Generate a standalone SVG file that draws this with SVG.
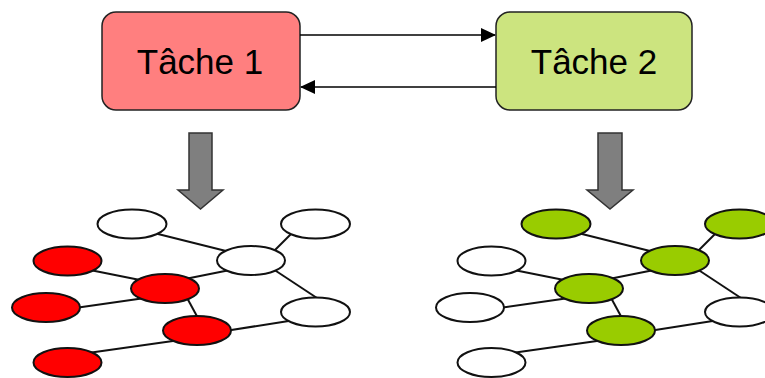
<svg xmlns="http://www.w3.org/2000/svg" width="765" height="378" viewBox="0 0 765 378">
<style>
.box{stroke:#222;stroke-width:1.5}
.lbl{font-family:"Liberation Sans",Arial,sans-serif;font-size:35px;fill:#000;text-anchor:middle}
.link{stroke:#000;stroke-width:1.5;fill:none}
.edge{stroke:#111;stroke-width:2;fill:none}
.n{stroke:#111;stroke-width:2}
.w{fill:#fff}
.r{fill:#ff0000}
.g{fill:#99cc00}
.big{fill:#7f7f7f;stroke:#333;stroke-width:1.5}
</style>
<defs>
<marker id="ah" markerWidth="15" markerHeight="14" refX="14" refY="7" orient="auto" markerUnits="userSpaceOnUse">
<path d="M0,0 L15,7 L0,14 Z" fill="#000"/>
</marker>
</defs>
<g id="tache1"><rect class="box" x="102" y="12" width="198" height="98" rx="14" fill="#ff7f7f"/><text class="lbl" x="200" y="74">Tâche 1</text></g>
<g id="tache2"><rect class="box" x="496" y="12" width="196" height="98" rx="14" fill="#cce47f"/><text class="lbl" x="594" y="74">Tâche 2</text></g>
<g id="connectors">
<line class="link" x1="300" y1="35" x2="495" y2="35" marker-end="url(#ah)"/>
<line class="link" x1="496" y1="87" x2="301" y2="87" marker-end="url(#ah)"/>
<path class="big" d="M189,133 H212 V190 H223 L200.5,209 L178,190 H189 Z"/>
<path class="big" d="M598,133 H622 V190 H633 L610,209 L587,190 H598 Z"/>
</g>
<g id="graph1">
<g class="edges">
<line class="edge" x1="150" y1="232" x2="230" y2="252"/>
<line class="edge" x1="295" y1="230" x2="270" y2="255"/>
<line class="edge" x1="90" y1="270" x2="145" y2="281"/>
<line class="edge" x1="185" y1="279" x2="230" y2="270"/>
<line class="edge" x1="75" y1="308" x2="145" y2="298"/>
<line class="edge" x1="186" y1="296" x2="199" y2="320"/>
<line class="edge" x1="270" y1="267" x2="320" y2="300"/>
<line class="edge" x1="225" y1="331" x2="295" y2="320"/>
<line class="edge" x1="88" y1="353" x2="180" y2="340"/>
</g>
<ellipse id="g1n1" class="n w" cx="132" cy="224" rx="34.5" ry="14.5"/>
<ellipse id="g1n2" class="n w" cx="315.5" cy="224" rx="34.5" ry="14.5"/>
<ellipse id="g1n3" class="n w" cx="251" cy="260.5" rx="34" ry="14.5"/>
<ellipse id="g1n4" class="n r" cx="67.5" cy="261" rx="34" ry="14.5"/>
<ellipse id="g1n5" class="n r" cx="165" cy="288.5" rx="34" ry="14.5"/>
<ellipse id="g1n6" class="n r" cx="46" cy="307.5" rx="34" ry="14.5"/>
<ellipse id="g1n7" class="n w" cx="315.5" cy="312" rx="34.5" ry="14.5"/>
<ellipse id="g1n8" class="n r" cx="197" cy="330.5" rx="34" ry="14.5"/>
<ellipse id="g1n9" class="n r" cx="67.5" cy="362.5" rx="34" ry="14.5"/>
</g>
<g id="graph2" transform="translate(424,0)">
<g class="edges">
<line class="edge" x1="150" y1="232" x2="230" y2="252"/>
<line class="edge" x1="295" y1="230" x2="270" y2="255"/>
<line class="edge" x1="90" y1="270" x2="145" y2="281"/>
<line class="edge" x1="185" y1="279" x2="230" y2="270"/>
<line class="edge" x1="75" y1="308" x2="145" y2="298"/>
<line class="edge" x1="186" y1="296" x2="199" y2="320"/>
<line class="edge" x1="270" y1="267" x2="320" y2="300"/>
<line class="edge" x1="225" y1="331" x2="295" y2="320"/>
<line class="edge" x1="88" y1="353" x2="180" y2="340"/>
</g>
<ellipse id="g2n1" class="n g" cx="132" cy="224" rx="34.5" ry="14.5"/>
<ellipse id="g2n2" class="n g" cx="315.5" cy="224" rx="34.5" ry="14.5"/>
<ellipse id="g2n3" class="n g" cx="251" cy="260.5" rx="34" ry="14.5"/>
<ellipse id="g2n4" class="n w" cx="67.5" cy="261" rx="34" ry="14.5"/>
<ellipse id="g2n5" class="n g" cx="165" cy="288.5" rx="34" ry="14.5"/>
<ellipse id="g2n6" class="n w" cx="46" cy="307.5" rx="34" ry="14.5"/>
<ellipse id="g2n7" class="n w" cx="315.5" cy="312" rx="34.5" ry="14.5"/>
<ellipse id="g2n8" class="n g" cx="197" cy="330.5" rx="34" ry="14.5"/>
<ellipse id="g2n9" class="n w" cx="67.5" cy="362.5" rx="34" ry="14.5"/>
</g>
</svg>
